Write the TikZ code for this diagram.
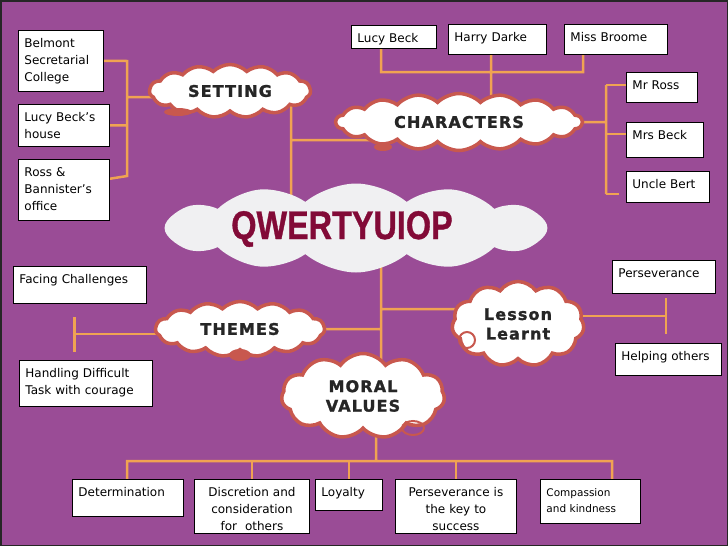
\documentclass[tikz,border=0pt]{standalone}
\usepackage{fontspec}
\usepackage{tikz}
\usetikzlibrary{positioning}
\usetikzlibrary{arrows.meta}
\usetikzlibrary{shapes,backgrounds}
\definecolor{boardpurple}{RGB}{154,76,150}
\definecolor{linkorange}{RGB}{240,163,82}
\definecolor{puffred}{RGB}{200,88,78}
\definecolor{titlered}{RGB}{130,10,55}
\definecolor{mistgrey}{RGB}{240,240,242}
\newfontfamily\boxfont{DejaVu Sans}
\newfontfamily\cloudfont{DejaVu Sans}[LetterSpace=7,BoldFeatures={FakeBold=1.5}]
\newfontfamily\titlefont{Liberation Sans}[BoldFeatures={FakeBold=1}]
\tikzset{leaf node/.style={draw=black,fill=white,line width=0.9pt,anchor=north west,inner xsep=6pt,inner ysep=3pt,text height=14pt,align=left,font=\boxfont\fontsize{12}{17}\selectfont},
cloud node/.style={cloud,cloud puffs=15,cloud puff arc=90,cloud ignores aspect,draw=puffred,line width=3.5pt,fill=white,inner sep=0pt,align=center,text=black!85,font=\cloudfont\bfseries\fontsize{16}{19.5}\selectfont},
link/.style={draw=linkorange,line width=2.5pt},}

\begin{document}
\begin{tikzpicture}[x=1pt, y=-1pt]
	\useasboundingbox (0,0) rectangle (728,546);
	\begin{scope}[on background layer]
		\fill[boardpurple] (0,0) rectangle (728,546);
	\end{scope}

	% setting
	\node[leaf node, text width=73pt, text depth=41pt] (set1) at (18,30) {Belmont\\Secretarial\\College};
	\node[leaf node, text width=79pt, text depth=22pt, below=12pt of set1.south west, anchor=north west] (set2) {Lucy Beck’s\\house};
	\node[leaf node, text width=79pt, text depth=41pt, below=12pt of set2.south west, anchor=north west] (set3) {Ross \&\\Bannister’s\\office};

	% characters
	\node[leaf node, text width=73pt, text depth=3pt] (ch1) at (351,25) {Lucy Beck};
	\node[leaf node, text width=86pt, text depth=10pt] (ch2) at (448,24) {Harry Darke};
	\node[leaf node, text width=91pt, text depth=10pt] (ch3) at (564,24) {Miss Broome};
	\node[leaf node, text width=59pt, text depth=10pt] (ch4) at (626,72) {Mr Ross};
	\node[leaf node, text width=65pt, text depth=15pt, below=19pt of ch4.south west, anchor=north west] (ch5) {Mrs Beck};
	\node[leaf node, text width=71pt, text depth=11pt, below=13pt of ch5.south west, anchor=north west] (ch6) {Uncle Bert};

	% lesson learnt
	\node[leaf node, text width=91pt, text depth=13pt] (les1) at (612,260) {Perseverance};
	\node[leaf node, text width=94pt, text depth=12pt] (les2) at (615,343) {Helping others};

	% themes
	\node[leaf node, text width=121pt, text depth=17pt] (th1) at (13,266) {Facing Challenges};
	\node[leaf node, text width=121pt, text depth=26pt] (th2) at (19,360) {Handling Difficult\\Task with courage};

	% moral values
	\node[leaf node, text width=99pt, text depth=17pt] (mv1) at (72,479) {Determination};
	\node[leaf node, text width=103pt, text depth=34pt, align=center] (mv2) at (194,479) {Discretion and\\consideration\\for\ \ others};
	\node[leaf node, text width=55pt, text depth=11pt] (mv3) at (315,479) {Loyalty};
	\node[leaf node, text width=109pt, text depth=34pt, align=center] (mv4) at (395,479) {Perseverance is\\the key to\\success};
	\node[leaf node, text width=88pt, text depth=24pt, font=\boxfont\fontsize{10.5}{16}\selectfont] (mv5) at (540,479) {Compassion\\and kindness};

	% clouds
	\node[cloud node, cloud puffs=12, cloud puff arc=80, draw=none, fill=mistgrey, minimum width=383pt, minimum height=89pt] (qwerty) at (356,228) {};
	\node[text=titlered, font=\titlefont\bfseries\fontsize{40}{40}\selectfont] (title) at (342,229) {\scalebox{0.81}[1]{QWERTYUIOP}};
	\node[cloud node, minimum width=161pt, minimum height=53pt] (setting) at (230,91) {SETTING};
	\node[cloud node, cloud puffs=18, minimum width=246pt, minimum height=57pt] (characters) at (459,122) {CHARACTERS};
	\node[cloud node, minimum width=169pt, minimum height=55pt] (themes) at (240,329) {THEMES};
	\node[cloud node, cloud puffs=11, cloud puff arc=110, minimum width=132pt, minimum height=85pt] (lesson) at (518,324) {Lesson\\Learnt};
	\node[cloud node, cloud puffs=11, cloud puff arc=110, minimum width=163pt, minimum height=85pt] (moral) at (363,396) {MORAL\\VALUES};

	\fill[puffred] (178,112) ellipse (14 and 4);
	\fill[puffred] (383,147) ellipse (9 and 4);
	\fill[puffred] (240,355) ellipse (11 and 6);
	\draw[puffred, line width=2pt] (467,340) circle (8);
	\draw[puffred, line width=2pt] (413,428) ellipse (11 and 7);

	\coordinate (settop) at (127,61);
	\coordinate (setbot) at (127,176);
	\coordinate (setmid) at (127,97);
	\coordinate (trunktop) at (291,103);
	\coordinate (chjoin) at (291,140);
	\coordinate (chtop) at (491,72);
	\coordinate (chbusL) at (381,72);
	\coordinate (chbusR) at (583,72);
	\coordinate (chrt) at (606,85);
	\coordinate (chrb) at (606,194);
	\coordinate (lowtop) at (381,265);
	\coordinate (lesjoin) at (381,309);
	\coordinate (thT) at (73,334);
	\coordinate (lesT) at (667,316);
	\coordinate (mvtop) at (376,461);
	\coordinate (mvbusL) at (127,461);
	\coordinate (mvbusR) at (612,461);

	\begin{scope}[on background layer]
	    \path[link]
	    (set1.east) -- (settop) -- (setbot) -- ([yshift=11pt]set3.east)
	    (set2.east) -- (set2.east -| settop)
	    (setmid) -- (setmid -| setting.center)
	    (trunktop) -- (trunktop |- qwerty.center)
	    (chjoin) -- (chjoin -| characters.center)
	    (ch1.south -| chbusL) -- (chbusL) -- (chbusR) -- (ch3.south -| chbusR)
	    (ch2.south -| chtop) -- (chtop) -- (chtop |- characters.center)
	    (characters.center) -- (characters.center -| chrt)
	    (chrt) -- (chrb)
	    (lowtop |- qwerty.center) -- (lowtop |- moral.center)
	    (lesjoin) -- (lesjoin -| lesson.center)
	    (themes.center) -- (themes.center -| lowtop)
	    (mvtop |- moral.center) -- (mvtop)
	    (mv1.north -| mvbusL) -- (mvbusL) -- (mvbusR) -- (mv5.north -| mvbusR);
	    \path[link, shorten >=7pt]
	    (chrt) -- (chrt -| ch4.west)
	    (606,134) -- (606,134 -| ch5.west)
	    (chrb) -- (chrb -| ch6.west);
	    \foreach \b in {mv2,mv3,mv4}
	        \draw[link] (\b.north) -- (\b.north |- mvbusL);
	    \draw[link, -{Bar[width=35pt]}] (thT -| themes.center) -- (thT);
	    \draw[link, -{Bar[width=36pt]}] (lesT -| lesson.center) -- (lesT);
	\end{scope}

	\draw[gray!30!black, line width=1.5pt] (0.75,0.75) rectangle (727.25,545.25);
\end{tikzpicture}
\end{document}
